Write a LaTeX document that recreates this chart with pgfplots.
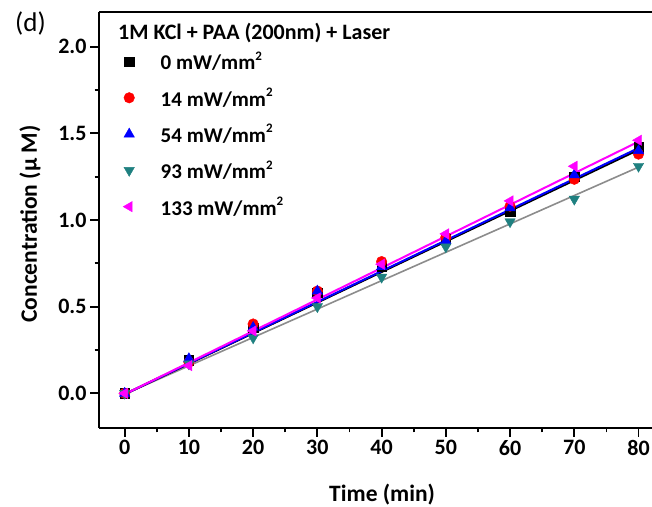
\documentclass[border=0pt]{standalone}
\usepackage{fontspec}
\setmainfont{Carlito}
\usepackage{pgfplots}
\pgfplotsset{compat=1.18}
\usetikzlibrary{calc}
\definecolor{teal93}{HTML}{1F8080}
\definecolor{fitgray}{HTML}{8C8C8C}
\definecolor{mag}{HTML}{FF00FF}
\newcommand{\sq}{\raisebox{0.95ex}{\fontsize{13}{13}\selectfont 2}}

\begin{document}
\begin{tikzpicture}
\begin{axis}[name=ax, scale only axis, width=553pt, height=416pt,
  xmin=-4, xmax=82.1, ymin=-0.2, ymax=2.2, clip=false,
  axis x line*=bottom, axis y line*=left,
  axis line style={line width=2pt, black},
  tick align=outside, major tick length=9pt, minor tick length=4.5pt,
  every tick/.style={line width=1.8pt, black},
  xtick={0,10,...,80}, minor x tick num=1,
  ytick={0,0.5,1,1.5,2}, minor y tick num=1,
  /pgf/number format/assume math mode=true,
  tick label style={font=\fontsize{22}{26}\selectfont\bfseries},
  yticklabel style={/pgf/number format/fixed, /pgf/number format/fixed zerofill, /pgf/number format/precision=1},
  xlabel={Time (min)},
  xlabel style={font=\fontsize{23.5}{28}\selectfont\bfseries, at={(axis description cs:0.512,0)}, anchor=center, yshift=-67pt},
  legend style={at={(axis description cs:0.038,0.91)}, anchor=north west, draw=none, fill=none,
    font=\fontsize{21}{25}\selectfont\bfseries, row sep=16.6pt, nodes={inner sep=0pt}},
  legend cell align=left,
  legend image code/.code={\path[draw=none, fill=none] (-6pt,-6pt) rectangle (31.5pt,6pt); \draw[#1] plot coordinates {(0pt,0pt)};},
]
\addplot[only marks, mark=square*, mark size=4.7pt, color=black] coordinates {
  (0,0) (10,0.19) (20,0.38) (30,0.58) (40,0.73) (50,0.89) (60,1.05) (70,1.25) (80,1.42)};
\addlegendentry{0 mW/mm\sq}
\addplot[only marks, mark=*, mark size=5.3pt, color=red] coordinates {
  (0,0) (10,0.18) (20,0.40) (30,0.59) (40,0.76) (50,0.90) (60,1.08) (70,1.235) (80,1.38)};
\addlegendentry{14 mW/mm\sq}
\addplot[only marks, mark=triangle*, mark size=6pt, color=blue] coordinates {
  (0,0) (10,0.20) (20,0.38) (30,0.59) (40,0.73) (50,0.88) (60,1.07) (70,1.26) (80,1.40)};
\addlegendentry{54 mW/mm\sq}
\addplot[only marks, mark=triangle*, mark size=6pt, mark options={rotate=180}, color=teal93] coordinates {
  (0,0) (10,0.17) (20,0.32) (30,0.50) (40,0.67) (50,0.845) (60,0.99) (70,1.12) (80,1.31)};
\addlegendentry{93 mW/mm\sq}
\addplot[only marks, mark=triangle*, mark size=6pt, mark options={rotate=90}, color=mag] coordinates {
  (0,0) (10,0.16) (20,0.36) (30,0.55) (40,0.745) (50,0.92) (60,1.11) (70,1.31) (80,1.46)};
\addlegendentry{133 mW/mm\sq}
% linear fits
\addplot[forget plot, no marks, line width=1.6pt, fitgray] coordinates {(0,-0.005) (80,1.305)};
\addplot[forget plot, no marks, line width=2pt, red] coordinates {(0,-0.005) (80,1.41)};
\addplot[forget plot, no marks, line width=2pt, black] coordinates {(0,-0.005) (80,1.405)};
\addplot[forget plot, no marks, line width=2pt, blue] coordinates {(0,-0.005) (80,1.415)};
\addplot[forget plot, no marks, line width=2pt, mag] coordinates {(0,-0.005) (80,1.452)};
\draw[line width=2pt, black] (rel axis cs:0,1) -- (rel axis cs:1,1);
\end{axis}
\node[rotate=90, anchor=center, inner sep=0pt, font=\fontsize{23.5}{28}\selectfont\bfseries] at ($(ax.north west)+(-69pt,-212pt)$) {Concentration (μ M)};
\node[anchor=west, inner sep=0pt, font=\fontsize{22}{26}\selectfont\bfseries] at ($(ax.north west)+(19pt,-21pt)$) {1M KCl + PAA (200nm) + Laser};
\node[anchor=west, inner sep=0pt, font=\fontsize{27}{31}\selectfont] at ($(ax.north west)+(-84pt,-12pt)$) {(d)};
\pgfresetboundingbox
\useasboundingbox ($(ax.south west)+(-99pt,-79pt)$) rectangle ($(ax.north east)+(0pt,12pt)$);
\end{tikzpicture}
\end{document}
